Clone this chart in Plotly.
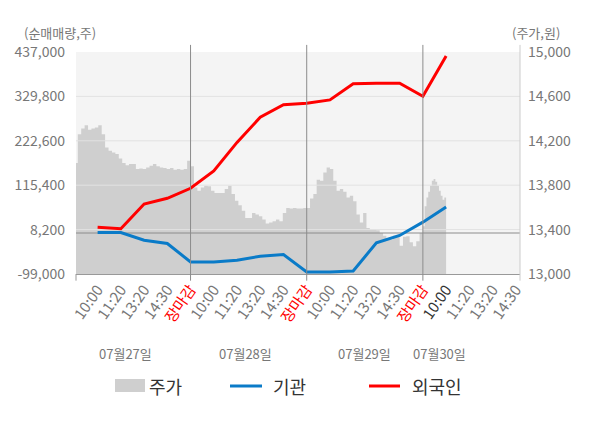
import numpy as np
import plotly.graph_objects as go

# ---------------- data ----------------
tick_labels = ["10:00", "11:20", "13:20", "14:30", "장마감",
               "10:00", "11:20", "13:20", "14:30", "장마감",
               "10:00", "11:20", "13:20", "14:30", "장마감",
               "10:00", "11:20", "13:20", "14:30"]
day_labels = ["07월27일", "07월28일", "07월29일", "07월30일"]
day_label_pos = [2.2, 7.35, 12.5, 15.7]

# net buying (shares) at each checkpoint (slot 1..16)
inst = [1200, 1200, -17400, -25400, -69800,
        -69800, -65900, -56200, -52100, -94100,
        -94100, -91600, -23800, -6000, 26200,
        62600]
foreign = [14100, 10200, 69900, 83700, 107900,
           149900, 218700, 279400, 309900, 313300,
           321300, 360100, 361800, 361800, 330300,
           427300]

# intraday price (won), sampled evenly through each session
price_day1 = [14000, 14260, 14310, 14340, 14300, 14310, 14320, 14340, 14260, 14140,
              14110, 14095, 14080, 14040, 14000, 13980, 13990, 13990, 13945, 13950,
              13945, 13960, 13975, 13990, 13970, 13960, 13955, 13945, 13955, 13940,
              13945, 13940, 13945, 14020, 13990]
price_day2 = [13970, 13780, 13750, 13780, 13795, 13790, 13750, 13730, 13730, 13730,
              13765, 13795, 13720, 13660, 13620, 13570, 13505, 13505, 13550, 13535,
              13520, 13490, 13455, 13465, 13475, 13490, 13475, 13550, 13595, 13590,
              13595, 13590, 13590, 13595, 13595]
price_day3 = [13595, 13680, 13720, 13850, 13840, 13915, 13960, 13945, 13840, 13750,
              13765, 13740, 13690, 13705, 13655, 13535, 13465, 13550, 13415, 13400,
              13400, 13395, 13370, 13345, 13325, 13310, 13345, 13335, 13255, 13335,
              13340, 13285, 13250, 13295, 13370, 13315]
price_day4 = [13430, 13610, 13690, 13740, 13795, 13840, 13855, 13830, 13795, 13750,
              13705, 13670, 13690, 13670]

left_ticks = [-99000, 8200, 115400, 222600, 329800, 437000]
right_ticks = [13000, 13400, 13800, 14200, 14600, 15000]

# ---------------- build ----------------
px_, py_ = [], []
for d, arr in enumerate([price_day1, price_day2, price_day3]):
    xs = np.linspace(d * 5, d * 5 + 5, len(arr))
    px_.extend(xs.tolist()); py_.extend(arr)
xs4 = np.linspace(15, 16, len(price_day4))
px_.extend(xs4.tolist()); py_.extend(price_day4)

slots = list(range(1, len(inst) + 1))
XR = [0.07, 19.18]

fig = go.Figure()
# price area on the primary (right-hand) axis -> drawn first, underneath
fig.add_trace(go.Scatter(x=px_, y=py_, yaxis="y", mode="lines", fill="tozeroy",
                         fillcolor="#cfcfcf", line=dict(width=0, color="#cfcfcf"),
                         line_shape="hv", name="주가", showlegend=False, hoverinfo="skip"))
# horizontal grid + zero line of the left axis, drawn over the area
gx, gy = [], []
for v in left_ticks[1:-1]:
    gx += [XR[0], XR[1], None]; gy += [v, v, None]
fig.add_trace(go.Scatter(x=gx, y=gy, yaxis="y2", mode="lines",
                         line=dict(color="#e2e2e2", width=1), showlegend=False,
                         hoverinfo="skip"))
fig.add_trace(go.Scatter(x=XR, y=[0, 0], yaxis="y2", mode="lines",
                         line=dict(color="#8c8c8c", width=1), showlegend=False,
                         hoverinfo="skip"))
fig.add_trace(go.Scatter(x=slots, y=inst, yaxis="y2", mode="lines", name="기관",
                         line=dict(color="#0a7bc8", width=3), showlegend=False))
fig.add_trace(go.Scatter(x=slots, y=foreign, yaxis="y2", mode="lines", name="외국인",
                         line=dict(color="#ff0000", width=3), showlegend=False))

def colored(t, i):
    if t == "장마감":
        return '<span style="color:#ff0000">장마감</span>'
    if i == 15:
        return '<span style="color:#333333">10:00</span>'
    return t

ticktext = [colored(t, i) for i, t in enumerate(tick_labels)]

W, H = 600, 428
OFF = 8  # page body margin of the rendered html
L, T = 76 - OFF, 52 - OFF
PW, PH = 444, 222
R, B = W - L - PW, H - T - PH
FONT = "Noto Sans CJK KR, Noto Sans, sans-serif"

fig.update_layout(
    width=W, height=H,
    margin=dict(l=L, r=R, t=T, b=B, pad=0),
    paper_bgcolor="white", plot_bgcolor="#f4f4f4",
    font=dict(family=FONT, size=13, color="#777777"),
    showlegend=False,
    xaxis=dict(range=XR, tickmode="array",
               tickvals=list(range(1, len(tick_labels) + 1)), ticktext=ticktext,
               tickangle=-55, showgrid=False, zeroline=False, ticks="",
               showline=True, linecolor="#999999", linewidth=1,
               tickfont=dict(size=15, color="#777777"), automargin=False),
    yaxis=dict(range=[13000, 15000], side="right",
               tickmode="array", tickvals=right_ticks,
               ticktext=[f"{v:,}" for v in right_ticks],
               showgrid=False, zeroline=False, ticks="", ticklabelstandoff=7,
               showline=False, tickfont=dict(size=14, color="#777777"),
               automargin=False),
    yaxis2=dict(range=[-99000, 437000], overlaying="y", side="left",
                tickmode="array", tickvals=left_ticks,
                ticktext=[f"{v:,}" for v in left_ticks],
                showgrid=False, zeroline=False,
                ticks="", ticklabelstandoff=10, showline=False,
                tickfont=dict(size=14, color="#777777"), automargin=False),
)

shapes = []
for xb in [5, 10, 15]:
    shapes.append(dict(type="line", xref="x", yref="paper", x0=xb, x1=xb,
                       y0=-0.03, y1=1.032, line=dict(color="#8c8c8c", width=1)))
shapes.append(dict(type="line", xref="paper", yref="paper", x0=0, x1=0,
                   y0=-0.03, y1=0, line=dict(color="#999999", width=1)))
shapes.append(dict(type="line", xref="paper", yref="paper", x0=1, x1=1,
                   y0=-0.03, y1=1.032, line=dict(color="#cccccc", width=1)))

# helpers: reference-pixel -> paper coords (reference plot box 76..520 x 52..274)
def pxx(x): return (x - 76) / PW
def pyy(y): return (274 - y) / PH

shapes.append(dict(type="rect", xref="paper", yref="paper",
                   x0=pxx(115), x1=pxx(145), y0=pyy(392), y1=pyy(379),
                   fillcolor="#cfcfcf", line=dict(width=0)))
shapes.append(dict(type="line", xref="paper", yref="paper",
                   x0=pxx(230), x1=pxx(262), y0=pyy(386), y1=pyy(386),
                   line=dict(color="#0a7bc8", width=3)))
shapes.append(dict(type="line", xref="paper", yref="paper",
                   x0=pxx(369), x1=pxx(400), y0=pyy(386), y1=pyy(386),
                   line=dict(color="#ff0000", width=3)))
fig.update_layout(shapes=shapes)

ann = []
for name, xpos in [("주가", 147), ("기관", 271), ("외국인", 410)]:
    ann.append(dict(text=name, xref="paper", yref="paper", x=pxx(xpos), y=pyy(386),
                    xanchor="left", yanchor="middle", showarrow=False,
                    font=dict(size=18, color="#333333", family=FONT)))
for lab, xp in zip(day_labels, day_label_pos):
    ann.append(dict(text=lab, xref="x", yref="paper", x=xp, y=pyy(353),
                    xanchor="center", yanchor="middle", showarrow=False,
                    font=dict(size=13, color="#777777", family=FONT)))
ann.append(dict(text="(순매매량,주)", xref="paper", yref="paper", x=pxx(22), y=pyy(33),
                xanchor="left", yanchor="middle", showarrow=False,
                font=dict(size=13, color="#777777", family=FONT)))
ann.append(dict(text="(주가,원)", xref="paper", yref="paper", x=pxx(562), y=pyy(33),
                xanchor="right", yanchor="middle", showarrow=False,
                font=dict(size=13, color="#777777", family=FONT)))
fig.update_layout(annotations=ann)

fig.write_html("out.html")
